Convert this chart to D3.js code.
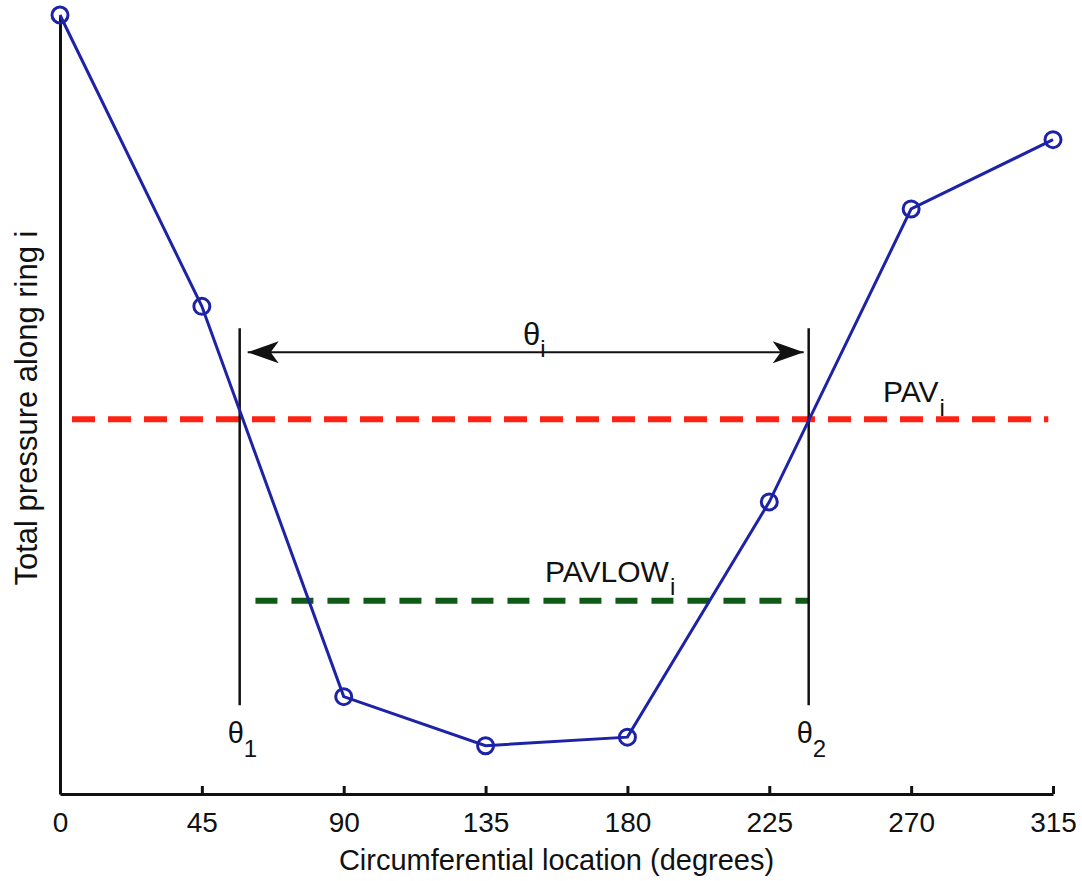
<!DOCTYPE html>
<html>
<head>
<meta charset="utf-8">
<script src="https://cdn.jsdelivr.net/npm/d3@7"></script>
<style>
  body { margin: 0; background: #fff; }
  svg { display: block; font-family: "Liberation Sans", Arial, sans-serif; }
  .axis path, .axis line { stroke: #111; stroke-width: 3; }
  .axis text { font-size: 28px; fill: #111; font-family: "Liberation Sans", Arial, sans-serif; }
</style>
</head>
<body>
<svg id="chart" width="1082" height="881"></svg>
<script>
// circumferential locations and total pressure (arbitrary units)
var angles = [0, 45, 90, 135, 180, 225, 270, 315];
var pressure = [100, 62.6, 12.5, 6.2, 7.3, 37.5, 75.1, 84.0];
var xTicks = [0, 45, 90, 135, 180, 225, 270, 315];

// annotation values
var pavLevel = 48.1;
var pavSpan = [3.8, 313.5];
var pavLowLevel = 24.8;
var pavLowSpan = [62, 237.5];
var thetaAngles = [57, 237.5];
var thetaLineSpan = [11.4, 59.8];
var arrowLevel = 56.7;

var svg = d3.select("#chart");

var x = d3.scaleLinear().domain([0, 315]).range([60, 1053]);
var y = d3.scaleLinear().domain([0, 100]).range([794, 15]);

// axes
svg.append("g")
  .attr("class", "axis")
  .attr("transform", "translate(0," + y(0) + ")")
  .call(d3.axisBottom(x).tickValues(xTicks).tickSizeInner(-8).tickSizeOuter(0).tickPadding(18));

svg.append("g")
  .attr("class", "axis")
  .attr("transform", "translate(" + x(0) + ",0)")
  .call(d3.axisLeft(y).tickValues([]).tickSizeOuter(0));

svg.append("text")
  .attr("x", (x(0) + x(315)) / 2)
  .attr("y", 870)
  .attr("text-anchor", "middle")
  .attr("font-size", 29)
  .attr("fill", "#111")
  .text("Circumferential location (degrees)");

svg.append("text")
  .attr("transform", "translate(37," + 408 + ") rotate(-90)")
  .attr("text-anchor", "middle")
  .attr("font-size", 31)
  .attr("fill", "#111")
  .text("Total pressure along ring i");

// PAV and PAVLOW dashed lines
svg.append("line")
  .attr("x1", x(pavSpan[0])).attr("x2", x(pavSpan[1]))
  .attr("y1", y(pavLevel)).attr("y2", y(pavLevel))
  .attr("stroke", "#ff2212")
  .attr("stroke-width", 6)
  .attr("stroke-dasharray", "23,13");

svg.append("line")
  .attr("x1", x(pavLowSpan[0])).attr("x2", x(pavLowSpan[1]))
  .attr("y1", y(pavLowLevel)).attr("y2", y(pavLowLevel))
  .attr("stroke", "#0f5a16")
  .attr("stroke-width", 6)
  .attr("stroke-dasharray", "22,14");

// theta boundary lines
svg.selectAll(".theta-line")
  .data(thetaAngles)
  .enter().append("line")
  .attr("class", "theta-line")
  .attr("x1", function(d) { return x(d); })
  .attr("x2", function(d) { return x(d); })
  .attr("y1", y(thetaLineSpan[0]))
  .attr("y2", y(thetaLineSpan[1]))
  .attr("stroke", "#111")
  .attr("stroke-width", 2.5);

// double headed arrow
svg.append("defs").append("marker")
  .attr("id", "head")
  .attr("markerUnits", "userSpaceOnUse")
  .attr("viewBox", "-33 -13 35 26")
  .attr("refX", 0).attr("refY", 0)
  .attr("markerWidth", 35).attr("markerHeight", 26)
  .attr("orient", "auto-start-reverse")
  .append("path")
  .attr("d", "M0,0L-31,-11L-23,0L-31,11Z")
  .attr("fill", "#111");

svg.append("line")
  .attr("x1", x(thetaAngles[0]) + 8)
  .attr("x2", x(thetaAngles[1]) - 5)
  .attr("y1", y(arrowLevel)).attr("y2", y(arrowLevel))
  .attr("stroke", "#111")
  .attr("stroke-width", 2)
  .attr("marker-start", "url(#head)")
  .attr("marker-end", "url(#head)");

// pressure line and markers
var line = d3.line()
  .x(function(d, i) { return x(angles[i]); })
  .y(function(d) { return y(d); });

svg.append("path")
  .datum(pressure)
  .attr("d", line)
  .attr("fill", "none")
  .attr("stroke", "#1d22a6")
  .attr("stroke-width", 3);

svg.selectAll(".pt")
  .data(pressure)
  .enter().append("circle")
  .attr("class", "pt")
  .attr("cx", function(d, i) { return x(angles[i]); })
  .attr("cy", function(d) { return y(d); })
  .attr("r", 8)
  .attr("fill", "none")
  .attr("stroke", "#1d22a6")
  .attr("stroke-width", 3);

// labels with subscripts
function subLabel(tx, ty, main, sub, size, subSize, dx, dy) {
  var t = svg.append("text")
    .attr("x", tx).attr("y", ty)
    .attr("font-size", size)
    .attr("fill", "#111");
  t.append("tspan").text(main);
  t.append("tspan")
    .attr("dx", dx).attr("dy", dy)
    .attr("font-size", subSize)
    .text(sub);
}

subLabel(883, 402, "PAV", "i", 30, 24, 1, 14);
subLabel(545, 582, "PAVLOW", "i", 30, 24, 1, 13);
subLabel(x(thetaAngles[0]) - 12, 743, "\u03b8", "1", 29, 24, 0, 14);
subLabel(x(thetaAngles[1]) - 12, 743, "\u03b8", "2", 29, 24, 0, 14);
subLabel(523, 345, "\u03b8", "i", 31, 24, 0, 12);
</script>
</body>
</html>
